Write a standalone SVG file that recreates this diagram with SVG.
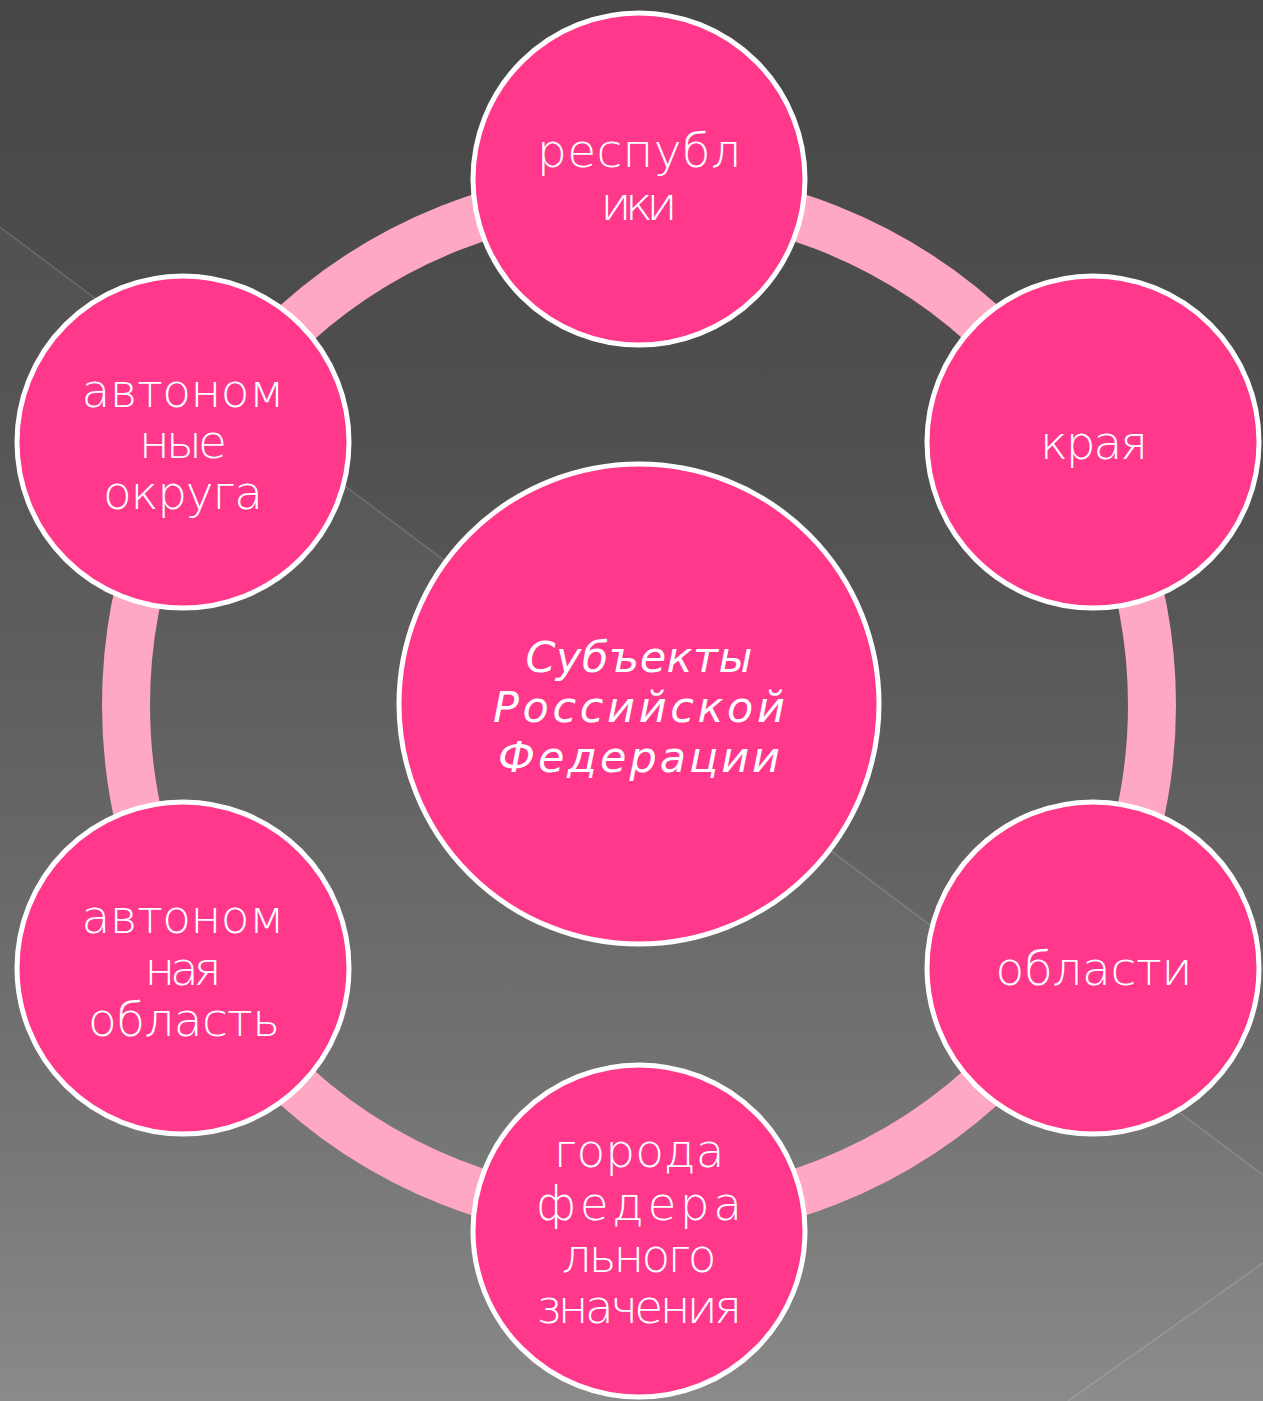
<svg xmlns="http://www.w3.org/2000/svg" width="1263" height="1401" viewBox="0 0 1263 1401">
<defs>
<linearGradient id="bg" x1="0" y1="0" x2="0" y2="1">
<stop offset="0" stop-color="#474747"/>
<stop offset="0.3" stop-color="#4f4f4f"/>
<stop offset="0.5" stop-color="#5b5b5b"/>
<stop offset="0.78" stop-color="#6e6e6e"/>
<stop offset="1" stop-color="#868686"/>
</linearGradient>
<style>
.node{fill:#FF388C;stroke:#FFFFFF;stroke-width:5}
.ring{fill:none;stroke:#FFA8C4;stroke-width:48}
.t{font-family:"DejaVu Sans","Liberation Sans",sans-serif;font-weight:200;font-size:47px;fill:#FFFFFF;text-anchor:middle}
.c{font-family:"DejaVu Sans","Liberation Sans",sans-serif;font-weight:200;font-style:italic;font-size:43px;fill:#FFFFFF;text-anchor:middle}
.bgl{stroke:#FFFFFF;stroke-opacity:0.16;stroke-width:1.5;fill:none}
</style>
</defs>
<g id="background">
<rect x="0" y="0" width="1263" height="1401" fill="url(#bg)"/>
<polygon points="0,227 1263,1175 1263,1401 0,1401" fill="#FFFFFF" fill-opacity="0.035"/>
<polygon points="1263,1263 1068,1401 1263,1401" fill="#FFFFFF" fill-opacity="0.02"/>
<line class="bgl" x1="0" y1="227" x2="1263" y2="1175"/>
<line class="bgl" x1="1263" y1="1263" x2="1068" y2="1401"/>
</g>
<g id="connectors">
<circle class="ring" cx="639" cy="705" r="513"/>
</g>
<g id="node-center">
<circle class="node" cx="639" cy="704" r="240"/>
<text class="c" x="639" y="672" textLength="227">Субъекты</text>
<text class="c" x="639" y="722" textLength="292">Российской</text>
<text class="c" x="639" y="772" textLength="282">Федерации</text>
</g>
<g id="node-respubliki">
<circle class="node" cx="639" cy="179" r="166"/>
<text class="t" x="639" y="167" textLength="204">республ</text>
<text class="t" x="639" y="220" textLength="77">ики</text>
</g>
<g id="node-kraya">
<circle class="node" cx="1093" cy="442" r="166"/>
<text class="t" x="1094" y="459" textLength="108">края</text>
</g>
<g id="node-oblasti">
<circle class="node" cx="1093" cy="968" r="166"/>
<text class="t" x="1094" y="985" textLength="197">области</text>
</g>
<g id="node-goroda">
<circle class="node" cx="639" cy="1231" r="166"/>
<text class="t" x="639" y="1167" textLength="171">города</text>
<text class="t" x="639" y="1220" textLength="206">федера</text>
<text class="t" x="639" y="1272" textLength="155">льного</text>
<text class="t" x="639" y="1323" textLength="206">значения</text>
</g>
<g id="node-avt-oblast">
<circle class="node" cx="183" cy="968" r="166"/>
<text class="t" x="183" y="933" textLength="203">автоном</text>
<text class="t" x="183" y="985" textLength="77">ная</text>
<text class="t" x="184" y="1036" textLength="192">область</text>
</g>
<g id="node-avt-okruga">
<circle class="node" cx="183" cy="442" r="166"/>
<text class="t" x="183" y="407" textLength="203">автоном</text>
<text class="t" x="183" y="458" textLength="88">ные</text>
<text class="t" x="183" y="509" textLength="160">округа</text>
</g>
</svg>
